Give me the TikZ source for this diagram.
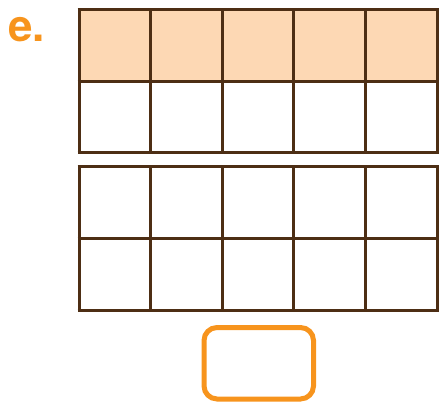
\documentclass[tikz,border=0pt]{standalone}
\usepackage{fontspec}
\newfontfamily\labelfont{TeX Gyre Heros}
\definecolor{framebrown}{HTML}{4D2E14}
\definecolor{peach}{HTML}{FDD8B4}
\definecolor{tagorange}{HTML}{F7941D}
\begin{document}
\begin{tikzpicture}[x=1pt, y=-1pt, line join=miter]
  \useasboundingbox (0, 0) rectangle (439, 403);
  % top frame, first row shaded
  \fill[peach] (79, 9.5) rectangle (437, 81);
  \foreach \r in {0,1,2} { \draw[framebrown, line width=3pt] (77.5, 9.5 + 71.75*\r) -- (438.5, 9.5 + 71.75*\r); }
  \foreach \c in {0,...,5} { \draw[framebrown, line width=3pt] (79 + 71.6*\c, 9.5) -- (79 + 71.6*\c, 153); }
  % bottom frame
  \foreach \r in {0,1,2} { \draw[framebrown, line width=3pt] (77.5, 167 + 71.75*\r) -- (438.5, 167 + 71.75*\r); }
  \foreach \c in {0,...,5} { \draw[framebrown, line width=3pt] (79 + 71.6*\c, 167) -- (79 + 71.6*\c, 310.5); }
  % answer box
  \draw[tagorange, line width=5pt, rounded corners=13pt] (204, 327.5) rectangle (313.5, 399);
  \node[anchor=base west, inner sep=0pt, text=tagorange, font=\labelfont\bfseries\fontsize{44}{44}\selectfont] (tag) at (8, 42) {e.};
\end{tikzpicture}
\end{document}
